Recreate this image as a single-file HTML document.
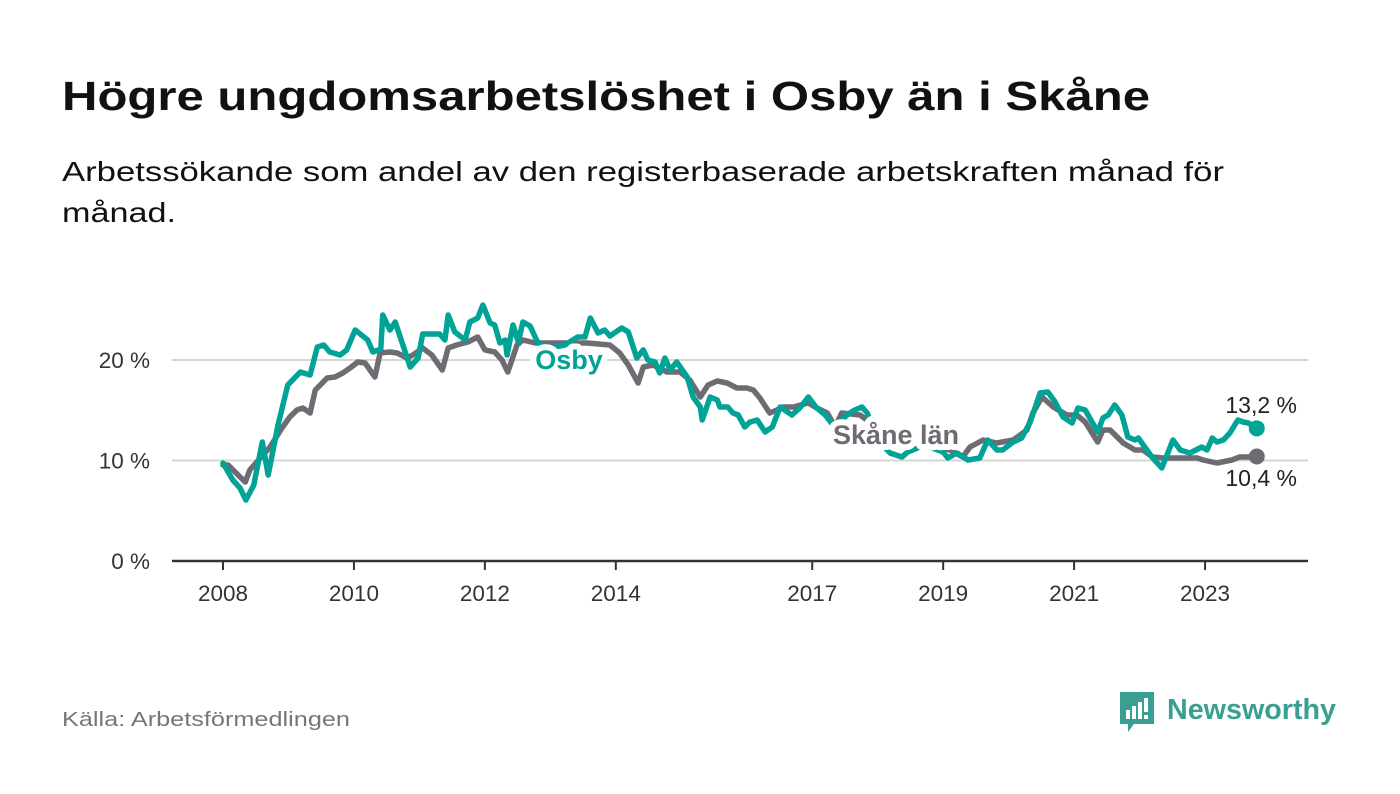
<!DOCTYPE html>
<html><head><meta charset="utf-8"><style>
html,body{margin:0;padding:0;background:#fff;}
svg{display:block;font-family:"Liberation Sans","DejaVu Sans",sans-serif;}
</style></head><body>
<svg id="chart" width="1400" height="794" viewBox="0 0 1400 794">
<text x="62" y="110" font-size="41" font-weight="bold" fill="#111" textLength="1088" lengthAdjust="spacingAndGlyphs">Högre ungdomsarbetslöshet i Osby än i Skåne</text>
<text x="62" y="181" font-size="28" fill="#111" textLength="1162" lengthAdjust="spacingAndGlyphs">Arbetssökande som andel av den registerbaserade arbetskraften månad för</text>
<text x="62" y="222" font-size="28" fill="#111" textLength="114" lengthAdjust="spacingAndGlyphs">månad.</text>
<g id="grid"></g>
<g id="yticks"></g>
<g id="xticks"></g>
<g id="series"></g>
<g id="labels"></g>
<text x="62" y="726" font-size="20" fill="#777" textLength="288" lengthAdjust="spacingAndGlyphs">Källa: Arbetsförmedlingen</text>
<g>
<path d="M1120 692 h34 v32 h-20 l-6 8 v-8 h-8 z" fill="#3a9e92"/>
<rect x="1126" y="710" width="4" height="9" fill="#fff"/><rect x="1132" y="706" width="4" height="13" fill="#fff"/><rect x="1138" y="702" width="4" height="17" fill="#fff"/><rect x="1144" y="698" width="4" height="14" fill="#fff"/><rect x="1144" y="715" width="4" height="4" fill="#fff"/>
<text x="1167" y="719" font-size="29" font-weight="bold" fill="#3a9e92" textLength="169" lengthAdjust="spacingAndGlyphs">Newsworthy</text>
</g>
</svg>
<script>
const yTicks=[0,10,20];
const yTickLabels=["0 %","10 %","20 %"];
const xTicks=[2008,2010,2012,2014,2017,2019,2021,2023];
const osbyT=[0.00,0.15,0.26,0.35,0.47,0.60,0.69,0.84,0.99,1.18,1.33,1.44,1.54,1.63,1.79,1.89,2.02,2.21,2.29,2.41,2.44,2.55,2.63,2.86,2.98,3.05,3.31,3.39,3.44,3.54,3.70,3.77,3.89,3.97,4.08,4.15,4.23,4.31,4.34,4.43,4.51,4.58,4.69,4.81,4.99,5.22,5.42,5.53,5.61,5.73,5.83,5.91,6.09,6.19,6.32,6.42,6.49,6.60,6.67,6.75,6.83,6.93,7.09,7.18,7.29,7.32,7.44,7.55,7.59,7.71,7.79,7.87,7.97,8.05,8.16,8.28,8.39,8.51,8.69,8.81,8.94,9.07,9.20,9.35,9.53,9.65,9.76,9.84,10.00,10.19,10.37,10.46,10.72,11.00,11.07,11.21,11.38,11.56,11.68,11.82,11.91,12.07,12.20,12.33,12.48,12.60,12.71,12.83,12.97,13.06,13.17,13.36,13.44,13.52,13.62,13.73,13.82,13.93,13.98,14.20,14.34,14.51,14.62,14.77,14.95,15.03,15.11,15.18,15.28,15.38,15.50,15.58,15.66,15.79];
const osbyV=[9.75,8.06,7.26,6.07,7.56,11.84,8.56,13.53,17.51,18.81,18.51,21.29,21.49,20.80,20.50,21.00,22.99,21.99,20.80,21.09,24.48,22.99,23.78,19.30,20.20,22.59,22.59,21.99,24.48,22.79,21.99,23.78,24.18,25.47,23.68,23.48,21.69,21.99,20.50,23.48,21.79,23.78,23.38,21.69,21.19,21.49,22.29,22.29,24.18,22.69,22.99,22.39,23.18,22.79,20.20,21.00,20.00,19.80,18.71,20.20,19.00,19.80,18.31,16.32,15.32,14.03,16.32,16.02,15.32,15.32,14.73,14.53,13.33,13.83,14.03,12.84,13.33,15.32,14.53,15.22,16.32,15.22,14.53,13.23,14.53,15.02,15.32,14.73,12.04,10.75,10.35,10.85,11.54,10.85,10.25,10.75,10.05,10.25,12.04,11.04,11.04,11.84,12.24,13.83,16.72,16.82,15.82,14.33,13.73,15.22,15.02,12.84,14.23,14.53,15.52,14.53,12.34,12.04,12.24,10.25,9.25,12.04,11.04,10.75,11.34,11.04,12.24,11.84,12.04,12.74,14.03,13.83,13.73,13.2];
const skaneT=[0.00,0.08,0.23,0.34,0.41,0.57,0.72,0.90,1.02,1.13,1.22,1.33,1.41,1.59,1.71,1.83,1.94,2.06,2.17,2.32,2.40,2.55,2.66,2.81,2.90,3.05,3.19,3.35,3.44,3.57,3.74,3.89,4.00,4.15,4.26,4.35,4.49,4.58,4.77,5.15,5.56,5.91,6.06,6.19,6.34,6.42,6.57,6.78,6.98,7.13,7.29,7.41,7.55,7.70,7.85,8.00,8.10,8.20,8.35,8.46,8.55,8.71,8.94,9.07,9.23,9.35,9.45,9.73,10.04,10.49,10.88,11.10,11.30,11.41,11.61,11.82,12.07,12.28,12.37,12.51,12.68,12.89,13.04,13.17,13.36,13.44,13.55,13.75,13.93,14.05,14.20,14.36,14.57,14.88,14.97,15.18,15.41,15.53,15.64,15.79];
const skaneV=[9.55,9.55,8.56,7.86,9.05,10.25,11.34,13.23,14.33,15.02,15.22,14.73,17.01,18.21,18.31,18.71,19.20,19.80,19.70,18.31,20.70,20.80,20.70,20.20,20.50,21.19,20.50,19.00,21.19,21.49,21.79,22.29,21.00,20.80,20.00,18.81,21.49,21.99,21.69,21.69,21.69,21.49,20.70,19.50,17.71,19.30,19.50,18.81,18.81,18.01,16.32,17.51,17.91,17.71,17.21,17.21,17.01,16.22,14.73,15.02,15.32,15.32,15.72,15.22,14.73,13.33,14.73,14.53,13.03,12.04,11.54,11.04,10.35,11.34,12.04,11.74,12.04,13.03,14.73,16.32,15.32,14.53,14.53,13.83,11.84,13.03,13.03,11.74,11.04,11.04,10.35,10.25,10.25,10.25,10.05,9.75,10.05,10.35,10.35,10.4];
const NS="http://www.w3.org/2000/svg";
const x=t=>223+t*65.47;
const xYear=yr=>x(yr-2008);
const y=v=>561-v*10.05;
function mk(tag,attrs,parent){const e=document.createElementNS(NS,tag);for(const k in attrs)e.setAttribute(k,attrs[k]);parent.appendChild(e);return e;}
const grid=document.getElementById('grid'),yt=document.getElementById('yticks'),xt=document.getElementById('xticks'),ser=document.getElementById('series'),lab=document.getElementById('labels');
yTicks.forEach((v,i)=>{
  const l=mk('line',{x1:172,x2:1308,y1:y(v),y2:y(v),stroke:v===0?'#333':'#d6d6d6','stroke-width':v===0?2.5:2},grid);
  
  
  const t=mk('text',{x:150,y:y(v)+8,'text-anchor':'end','font-size':22.5,fill:'#333'},yt);
  t.textContent=yTickLabels[i];
  
  
});
xTicks.forEach(yr=>{
  const l=mk('line',{x1:xYear(yr),x2:xYear(yr),y1:561,y2:570,stroke:'#333','stroke-width':2},xt);
  
  
  const t=mk('text',{x:xYear(yr),y:601,'text-anchor':'middle','font-size':22.5,fill:'#333'},xt);
  t.textContent=yr;
  
  
});
function line(T,V,color,name){
  const d=T.map((t,i)=>(i?'L':'M')+x(t).toFixed(1)+' '+y(V[i]).toFixed(1)).join(' ');
  const p=mk('path',{d:d,fill:'none',stroke:color,'stroke-width':5.5,'stroke-linejoin':'round','stroke-linecap':'round'},ser);
  
  
  const n=T.length-1;
  const c=mk('circle',{cx:x(T[n]),cy:y(V[n]),r:8,fill:color},ser);
  
  
}
line(skaneT,skaneV,'#6e6b72','skane');
line(osbyT,osbyV,'#00a396','osby');
function label(txt,xx,yy,color,anchor,bold,name,sw){
  const t=mk('text',{x:xx,y:yy,'text-anchor':anchor,'font-size':bold?27:23,'font-weight':bold?'bold':'normal',fill:color,stroke:'#fff','stroke-width':sw,'paint-order':'stroke','stroke-linejoin':'round'},lab);
  t.textContent=txt;
  
  
}
label('Osby',569,369,'#00a396','middle',true,'osby-label',12);
label('Skåne län',896,444,'#6e6b72','middle',true,'skane-label',12);
label(osbyV[osbyV.length-1].toFixed(1).replace('.',',')+' %',1297,413,'#222','end',false,'osby-end-value',6);
label(skaneV[skaneV.length-1].toFixed(1).replace('.',',')+' %',1297,486,'#222','end',false,'skane-end-value',6);
</script>
</body></html>
